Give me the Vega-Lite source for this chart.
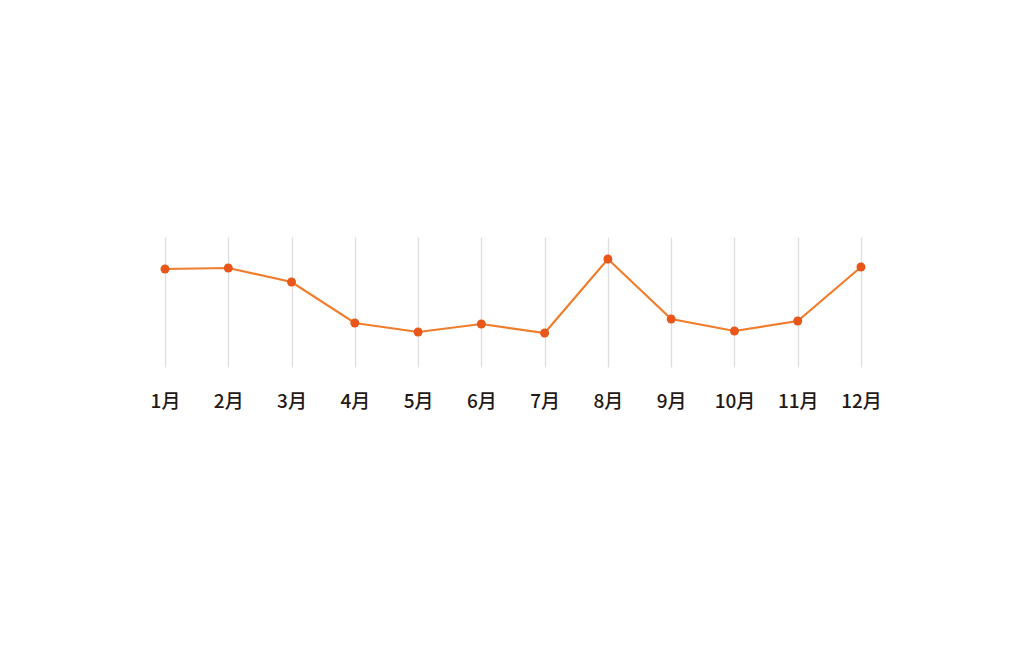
{
  "$schema": "https://vega.github.io/schema/vega-lite/v6.json",
  "autosize": "none",
  "width": 696,
  "height": 130,
  "padding": {"left": 165, "top": 237, "right": 163, "bottom": 278},
  "background": "#ffffff",
  "config": {"view": {"stroke": null}},
  "data": {
    "values": [
      {"month": "1月", "value": 98},
      {"month": "2月", "value": 99},
      {"month": "3月", "value": 85},
      {"month": "4月", "value": 44},
      {"month": "5月", "value": 35},
      {"month": "6月", "value": 43},
      {"month": "7月", "value": 34},
      {"month": "8月", "value": 108},
      {"month": "9月", "value": 48},
      {"month": "10月", "value": 36},
      {"month": "11月", "value": 46},
      {"month": "12月", "value": 100}
    ]
  },
  "encoding": {
    "x": {
      "field": "month",
      "type": "ordinal",
      "sort": null,
      "scale": {"type": "point", "padding": 0},
      "axis": {
        "title": null,
        "domain": false,
        "ticks": false,
        "grid": true,
        "gridColor": "#dedede",
        "gridWidth": 1.3,
        "labelAngle": 0,
        "labelFont": "Noto Sans CJK JP",
        "labelFontSize": 19,
        "labelFontWeight": 500,
        "labelColor": "#231815",
        "labelPadding": 25,
        "labelBaseline": "top"
      }
    },
    "y": {
      "field": "value",
      "type": "quantitative",
      "scale": {"domain": [0, 130]},
      "axis": null
    }
  },
  "layer": [
    {
      "mark": {"type": "line", "color": "#f07d2c", "strokeWidth": 2.2}
    },
    {
      "mark": {"type": "point", "filled": true, "opacity": 1, "size": 80, "color": "#e8561a"}
    }
  ]
}
